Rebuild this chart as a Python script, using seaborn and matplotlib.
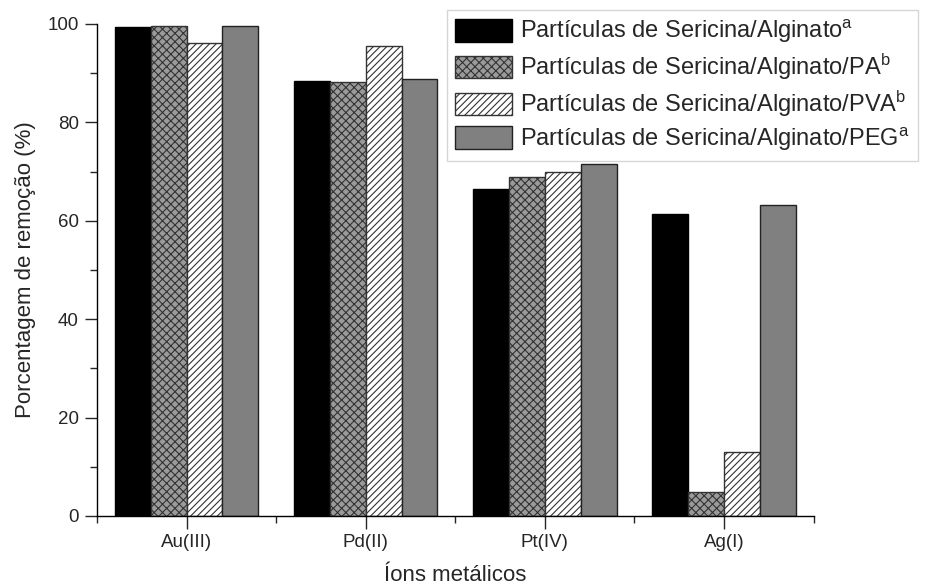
import matplotlib
matplotlib.use("Agg")
import matplotlib.pyplot as plt
import seaborn as sns
import pandas as pd
from matplotlib.ticker import MultipleLocator

categories = ["Au(III)", "Pd(II)", "Pt(IV)", "Ag(I)"]
series = [
    "Partículas de Sericina/Alginato$\\mathregular{^a}$",
    "Partículas de Sericina/Alginato/PA$\\mathregular{^b}$",
    "Partículas de Sericina/Alginato/PVA$\\mathregular{^b}$",
    "Partículas de Sericina/Alginato/PEG$\\mathregular{^a}$",
]
v_alg = [99.4, 88.5, 66.4, 61.3]
v_pa = [99.6, 88.3, 69.0, 4.9]
v_pva = [96.2, 95.6, 70.0, 13.1]
v_peg = [99.6, 88.8, 71.6, 63.3]

rows = []
for s, vals in zip(series, [v_alg, v_pa, v_pva, v_peg]):
    for c, v in zip(categories, vals):
        rows.append({"ion": c, "serie": s, "val": v})
df = pd.DataFrame(rows)

sns.set_style("ticks")
plt.rcParams["font.family"] = ["Liberation Sans", "DejaVu Sans"]
plt.rcParams["hatch.linewidth"] = 0.8

fig = plt.figure(figsize=(9.45, 5.85), dpi=100)
ax = fig.add_axes([0.1026, 0.118, 0.7584, 0.841])

sns.barplot(data=df, x="ion", y="val", hue="serie", order=categories,
            hue_order=series, width=0.8, ax=ax, errorbar=None, legend=True)

styles = [
    dict(facecolor="black", edgecolor="black", hatch=None),
    dict(facecolor="#9a9a9a", edgecolor="#333333", hatch="xxxx"),
    dict(facecolor="white", edgecolor="#333333", hatch="/////"),
    dict(facecolor="#808080", edgecolor="#222222", hatch=None),
]
for cont, st in zip(ax.containers, styles):
    for p in cont:
        p.set_facecolor(st["facecolor"])
        p.set_edgecolor(st["edgecolor"])
        p.set_linewidth(1.0)
        if st["hatch"]:
            p.set_hatch(st["hatch"])

ax.set_xlim(-0.5, 3.5)
ax.set_ylim(0, 100)
ax.yaxis.set_major_locator(MultipleLocator(20))
ax.yaxis.set_minor_locator(MultipleLocator(10))
ax.xaxis.set_minor_locator(MultipleLocator(0.5))
ax.tick_params(axis="both", which="major", length=9, width=1.0, labelsize=13.5, direction="out", pad=4)
ax.tick_params(axis="both", which="minor", length=5, width=1.0, direction="out")
ax.tick_params(axis="x", which="minor", labelbottom=False)
sns.despine(ax=ax)
for sp in ["left", "bottom"]:
    ax.spines[sp].set_linewidth(1.0)
    ax.spines[sp].set_color("black")

ax.set_xlabel("Íons metálicos", fontsize=16, labelpad=10)
ax.set_ylabel("Porcentagem de remoção (%)", fontsize=16, labelpad=8)

handles, labels = ax.get_legend_handles_labels()
for h, st in zip(handles, styles):
    h.set_facecolor(st["facecolor"])
    h.set_edgecolor(st["edgecolor"])
    if st["hatch"]:
        h.set_hatch(st["hatch"])
ax.legend(handles, labels, loc="upper left", bbox_to_anchor=(0.473, 0.983),
          bbox_transform=fig.transFigure, fontsize=17, frameon=True, fancybox=False,
          edgecolor="#cccccc", handlelength=2.4, handleheight=1.1, labelspacing=0.28,
          handletextpad=0.34, borderpad=0.35, borderaxespad=0)

fig.savefig("out.png", dpi=100)
